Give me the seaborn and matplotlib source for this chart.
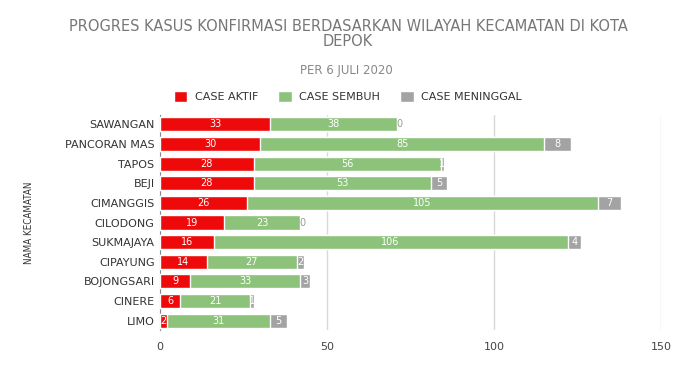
import numpy as np
import pandas as pd
import seaborn as sns
import matplotlib.pyplot as plt

# Data
kecamatan = ['SAWANGAN', 'PANCORAN MAS', 'TAPOS', 'BEJI', 'CIMANGGIS', 'CILODONG',
             'SUKMAJAYA', 'CIPAYUNG', 'BOJONGSARI', 'CINERE', 'LIMO']
case_aktif = [33, 30, 28, 28, 26, 19, 16, 14, 9, 6, 2]
case_sembuh = [38, 85, 56, 53, 105, 23, 106, 27, 33, 21, 31]
case_meninggal = [0, 8, 1, 5, 7, 0, 4, 2, 3, 1, 5]

RED = '#ee0a0a'
GREEN = '#8cc27a'
GRAY = '#a3a3a3'

sns.set_style('white')
plt.rcParams['font.family'] = ['DejaVu Sans']

df = pd.DataFrame({
    'kecamatan': kecamatan,
    'aktif': case_aktif,
    'sembuh': case_sembuh,
    'meninggal': case_meninggal,
})
df['aktif_sembuh'] = df['aktif'] + df['sembuh']
df['total'] = df['aktif_sembuh'] + df['meninggal']

fig = plt.figure(figsize=(6.96, 3.82), dpi=100)
ax = fig.add_axes([0.23, 0.135, 0.72, 0.565])

# layered bars give the stacked look
sns.barplot(data=df, x='total', y='kecamatan', color=GRAY, width=0.72,
            saturation=1, ax=ax, label='CASE MENINGGAL', zorder=3)
sns.barplot(data=df, x='aktif_sembuh', y='kecamatan', color=GREEN, width=0.72,
            saturation=1, ax=ax, label='CASE SEMBUH', zorder=3)
sns.barplot(data=df, x='aktif', y='kecamatan', color=RED, width=0.72,
            saturation=1, ax=ax, label='CASE AKTIF', zorder=3)

# value labels
for i, row in df.iterrows():
    segs = [(0, row['aktif']), (row['aktif'], row['sembuh']),
            (row['aktif_sembuh'], row['meninggal'])]
    for left, val in segs:
        if val == 0:
            ax.text(left + 0.6, i, '0', ha='center', va='center',
                    fontsize=7, color='#999999', zorder=5)
        else:
            ax.text(left + val / 2, i, str(val), ha='center', va='center',
                    fontsize=7, color='white', zorder=5)

ax.set_xlim(0, 150)
ax.set_xticks([0, 50, 100, 150])
ax.xaxis.grid(True, color='#d9d9d9', linewidth=1, zorder=0)
ax.tick_params(axis='x', labelsize=8, colors='#444444', length=0, pad=8)
ax.tick_params(axis='y', labelsize=8, length=0, pad=4)
for lbl in ax.get_yticklabels():
    lbl.set_color('#333333')
for s in ['top', 'right', 'bottom']:
    ax.spines[s].set_visible(False)
ax.spines['left'].set_color('#888888')
ax.set_xlabel('')
ax.set_ylabel('NAMA KECAMATAN', fontsize=7, color='#333333', labelpad=22,
              fontstretch='condensed')

handles, labels = ax.get_legend_handles_labels()
order = [labels.index(l) for l in ['CASE AKTIF', 'CASE SEMBUH', 'CASE MENINGGAL']]
ax.legend([handles[k] for k in order], [labels[k] for k in order],
          loc='center', bbox_to_anchor=(0.5, 0.748), bbox_transform=fig.transFigure,
          ncol=3, frameon=False, fontsize=8, handlelength=1.2, handleheight=1.2,
          columnspacing=1.8, handletextpad=0.7, labelcolor='#333333')

fig.text(0.5, 0.911,
         'PROGRES KASUS KONFIRMASI BERDASARKAN WILAYAH KECAMATAN DI KOTA\nDEPOK',
         ha='center', va='center', fontsize=10.5, color='#777777', linespacing=1.0)
fig.text(0.497, 0.815, 'PER 6 JULI 2020', ha='center', va='center',
         fontsize=8.5, color='#888888')

fig.savefig('out.png', dpi=100, facecolor='white')
